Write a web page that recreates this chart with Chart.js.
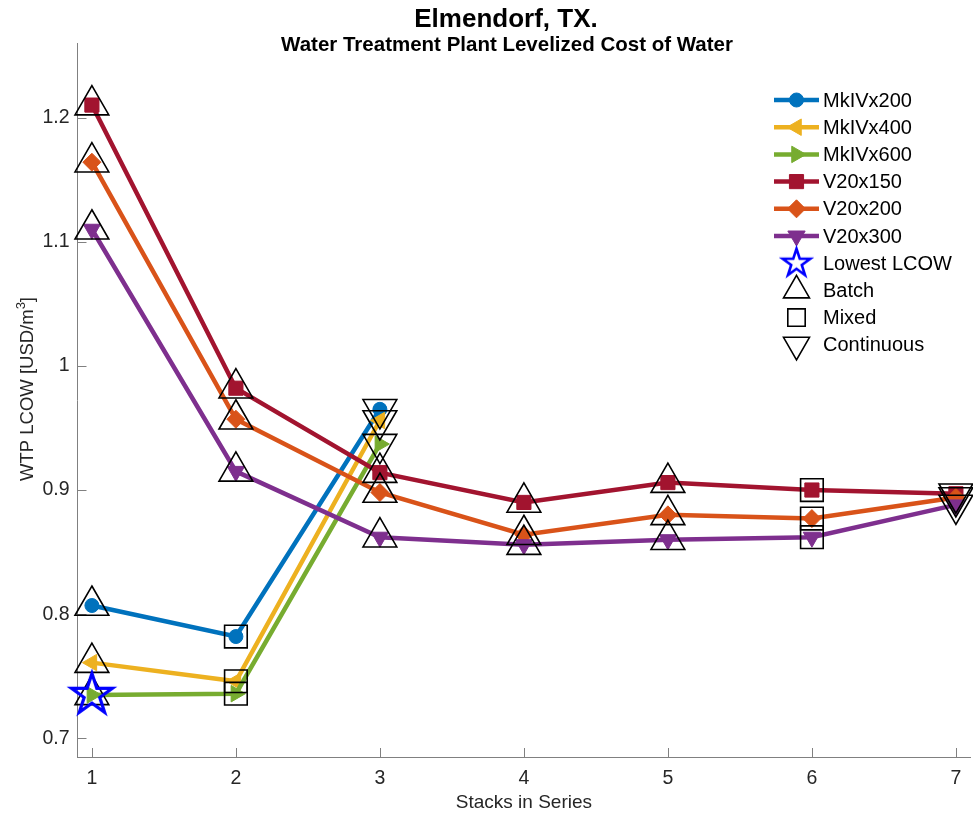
<!DOCTYPE html>
<html>
<head>
<meta charset="utf-8">
<title>Elmendorf, TX. - WTP LCOW</title>
<script src="https://cdn.jsdelivr.net/npm/chart.js@4.4.1/dist/chart.umd.min.js"></script>
<style>
  html, body { margin: 0; padding: 0; background: #fff; }
  #lcow { display: block; }
</style>
</head>
<body>
<canvas id="lcow" width="973" height="820"></canvas>
<script>
// --- Data ---
const stacks = [1, 2, 3, 4, 5, 6, 7];

// WTP levelized cost of water [USD/m3], one value per stack count
const mkIVx200 = [0.807, 0.782, 0.965];
const mkIVx400 = [0.761, 0.746, 0.956];
const mkIVx600 = [0.735, 0.736, 0.937];
const v20x150 = [1.210, 0.982, 0.914, 0.890, 0.906, 0.900, 0.897];
const v20x200 = [1.164, 0.957, 0.898, 0.864, 0.880, 0.877, 0.894];
const v20x300 = [1.110, 0.915, 0.862, 0.856, 0.860, 0.862, 0.888];

// operating mode at each stack count
const mkIVModes = ['batch', 'mixed', 'continuous'];
const v20Modes = ['batch', 'batch', 'batch', 'batch', 'batch', 'mixed', 'continuous'];

const yTicks = [0.7, 0.8, 0.9, 1, 1.1, 1.2];
const yTickLabels = ['0.7', '0.8', '0.9', '1', '1.1', '1.2'];
const xTickLabels = ['1', '2', '3', '4', '5', '6', '7'];

// --- Styling ---
const FONT = '"Liberation Sans", Arial, Helvetica, sans-serif';
const TEXT = '#262626';
const AXIS = '#808080';

const series = [
  { name: 'MkIVx200', values: mkIVx200, modes: mkIVModes, color: '#0072BD', style: 'circle', rot: 0, r: 7 },
  { name: 'MkIVx400', values: mkIVx400, modes: mkIVModes, color: '#EDB120', style: 'triangle', rot: -90, r: 9.5 },
  { name: 'MkIVx600', values: mkIVx600, modes: mkIVModes, color: '#77AC30', style: 'triangle', rot: 90, r: 9.5 },
  { name: 'V20x150', values: v20x150, modes: v20Modes, color: '#A2142F', style: 'rect', rot: 0, r: 10 },
  { name: 'V20x200', values: v20x200, modes: v20Modes, color: '#D95319', style: 'rectRot', rot: 0, r: 9 },
  { name: 'V20x300', values: v20x300, modes: v20Modes, color: '#7E2F8E', style: 'triangle', rot: 180, r: 10 }
];

const modeMarkers = [
  { mode: 'batch', name: 'Batch', style: 'triangle', rot: 0, r: 19.5, legendR: 15 },
  { mode: 'mixed', name: 'Mixed', style: 'rect', rot: 0, r: 16, legendR: 12.3 },
  { mode: 'continuous', name: 'Continuous', style: 'triangle', rot: 180, r: 19.5, legendR: 15 }
];

// hollow blue pentagram used for the lowest LCOW point
function starImage(R, lw) {
  const c = document.createElement('canvas');
  const size = Math.ceil(2 * R + 2 * lw + 2);
  c.width = c.height = size;
  const g = c.getContext('2d');
  g.beginPath();
  for (let k = 0; k < 10; k++) {
    const rr = k % 2 ? R * 0.382 : R;
    const a = -Math.PI / 2 + k * Math.PI / 5;
    g.lineTo(size / 2 + rr * Math.cos(a), size / 2 + rr * Math.sin(a));
  }
  g.closePath();
  g.strokeStyle = '#0000FF';
  g.lineWidth = lw;
  g.lineJoin = 'miter';
  g.stroke();
  return c;
}
const bigStar = starImage(21.5, 3.2);
const smallStar = starImage(14.5, 2.6);

const toPoints = values => values.map((v, i) => ({ x: stacks[i], y: v }));

// --- Datasets ---
const datasets = series.map((s, i) => ({
  label: s.name,
  data: toPoints(s.values),
  borderColor: s.color,
  backgroundColor: s.color,
  borderWidth: 4.5,
  pointStyle: s.style,
  pointRotation: s.rot,
  pointRadius: s.r,
  pointBorderWidth: 1,
  pointBackgroundColor: s.color,
  pointBorderColor: s.color,
  tension: 0,
  clip: false,
  order: 20 - i
}));

modeMarkers.forEach((m, i) => {
  const pts = [];
  series.forEach(s => s.values.forEach((v, k) => {
    if (s.modes[k] === m.mode) pts.push({ x: stacks[k], y: v });
  }));
  datasets.push({
    label: m.name,
    data: pts,
    showLine: false,
    pointStyle: m.style,
    pointRotation: m.rot,
    pointRadius: m.r,
    pointBorderWidth: 1.6,
    pointBorderColor: '#000000',
    pointBackgroundColor: 'rgba(0,0,0,0)',
    clip: false,
    order: 5 - i
  });
});

// lowest cost point over every configuration
let lowest = null;
series.forEach(s => s.values.forEach((v, k) => {
  if (!lowest || v < lowest.y) lowest = { x: stacks[k], y: v };
}));
datasets.push({
  label: 'Lowest LCOW',
  data: [lowest],
  showLine: false,
  pointStyle: bigStar,
  pointRadius: 21,
  clip: false,
  order: 0
});

// --- Plugins ---
const inwardTicks = {
  id: 'inwardTicks',
  beforeDatasetsDraw(chart) {
    const { ctx, chartArea: a, scales: { x, y } } = chart;
    ctx.save();
    ctx.strokeStyle = AXIS;
    ctx.lineWidth = 1;
    ctx.beginPath();
    y.ticks.forEach(t => {
      const py = Math.round(y.getPixelForValue(t.value)) + 0.5;
      ctx.moveTo(a.left, py);
      ctx.lineTo(a.left + 9, py);
    });
    x.ticks.forEach(t => {
      const px = Math.round(x.getPixelForValue(t.value)) + 0.5;
      ctx.moveTo(px, a.bottom);
      ctx.lineTo(px, a.bottom - 9);
    });
    ctx.stroke();
    ctx.restore();
  }
};

const titles = {
  id: 'titles',
  afterDraw(chart) {
    const ctx = chart.ctx;
    ctx.save();
    ctx.fillStyle = '#000000';
    ctx.textAlign = 'center';
    ctx.textBaseline = 'alphabetic';
    ctx.font = 'bold 26px ' + FONT;
    ctx.fillText('Elmendorf, TX.', 506, 27);
    ctx.font = 'bold 20.5px ' + FONT;
    ctx.fillText('Water Treatment Plant Levelized Cost of Water', 507, 51);

    // rotated y axis title with superscript
    ctx.fillStyle = TEXT;
    ctx.textAlign = 'left';
    const main = 'WTP LCOW [USD/m';
    ctx.font = '18.5px ' + FONT;
    const w1 = ctx.measureText(main).width;
    const w3 = ctx.measureText(']').width;
    ctx.font = '13px ' + FONT;
    const w2 = ctx.measureText('3').width;
    const total = w1 + w2 + w3;
    ctx.translate(32.5, 389 + total / 2);
    ctx.rotate(-Math.PI / 2);
    ctx.font = '18.5px ' + FONT;
    ctx.fillText(main, 0, 0);
    ctx.font = '13px ' + FONT;
    ctx.fillText('3', w1, -8);
    ctx.font = '18.5px ' + FONT;
    ctx.fillText(']', w1 + w2, 0);
    ctx.restore();
  }
};

const sideLegend = {
  id: 'sideLegend',
  afterDraw(chart) {
    const ctx = chart.ctx;
    const lineX0 = 774, lineX1 = 819, markX = 796.5, textX = 823;
    const top = 100, step = 27.2;
    ctx.save();
    ctx.font = '20px ' + FONT;
    ctx.textBaseline = 'middle';
    ctx.textAlign = 'left';
    let row = 0;
    series.forEach(s => {
      const yy = top + step * row++;
      ctx.strokeStyle = s.color;
      ctx.lineWidth = 4.5;
      ctx.beginPath();
      ctx.moveTo(lineX0, yy);
      ctx.lineTo(lineX1, yy);
      ctx.stroke();
      ctx.fillStyle = s.color;
      ctx.lineWidth = 1;
      Chart.helpers.drawPoint(ctx, { pointStyle: s.style, rotation: s.rot, radius: s.r, borderWidth: 1 }, markX, yy);
      ctx.fillStyle = '#000000';
      ctx.fillText(s.name, textX, yy + 1);
    });
    let yy = top + step * row++;
    ctx.drawImage(smallStar, markX - smallStar.width / 2, yy - smallStar.height / 2);
    ctx.fillStyle = '#000000';
    ctx.fillText('Lowest LCOW', textX, yy + 1);
    modeMarkers.forEach(m => {
      yy = top + step * row++;
      ctx.strokeStyle = '#000000';
      ctx.fillStyle = 'rgba(0,0,0,0)';
      ctx.lineWidth = 1.6;
      Chart.helpers.drawPoint(ctx, { pointStyle: m.style, rotation: m.rot, radius: m.legendR, borderWidth: 1.6 }, markX, yy);
      ctx.fillStyle = '#000000';
      ctx.fillText(m.name, textX, yy + 1);
    });
    ctx.restore();
  }
};

// --- Chart ---
new Chart(document.getElementById('lcow'), {
  type: 'line',
  data: { datasets },
  options: {
    responsive: false,
    animation: false,
    devicePixelRatio: 1,
    layout: { autoPadding: false, padding: { top: 43, right: 2.7, left: 0, bottom: 0 } },
    plugins: {
      legend: { display: false },
      tooltip: { enabled: false }
    },
    scales: {
      x: {
        type: 'linear',
        min: 0.9,
        max: 7.1,
        afterBuildTicks: s => { s.ticks = stacks.map(v => ({ value: v })); },
        afterFit: s => {
          s.height = 63;
          s.paddingLeft = 0;
          s.paddingRight = 0;
        },
        grid: { display: false, drawTicks: false },
        border: { display: true, color: AXIS, width: 1 },
        ticks: {
          padding: 10,
          color: TEXT,
          font: { family: FONT, size: 19.5 },
          callback: (v, i) => xTickLabels[i]
        },
        title: {
          display: true,
          text: 'Stacks in Series',
          color: TEXT,
          font: { family: FONT, size: 19 },
          padding: { top: 0, bottom: 6 }
        }
      },
      y: {
        type: 'linear',
        min: 0.685,
        max: 1.26,
        afterBuildTicks: s => { s.ticks = yTicks.map(v => ({ value: v })); },
        afterFit: s => {
          s.width = 77.5;
          s.paddingTop = 0;
          s.paddingBottom = 0;
        },
        grid: { display: false, drawTicks: false },
        border: { display: true, color: AXIS, width: 1 },
        ticks: {
          padding: 8,
          color: TEXT,
          font: { family: FONT, size: 19.5 },
          callback: (v, i) => yTickLabels[i]
        }
      }
    }
  },
  plugins: [inwardTicks, titles, sideLegend]
});
</script>
</body>
</html>
